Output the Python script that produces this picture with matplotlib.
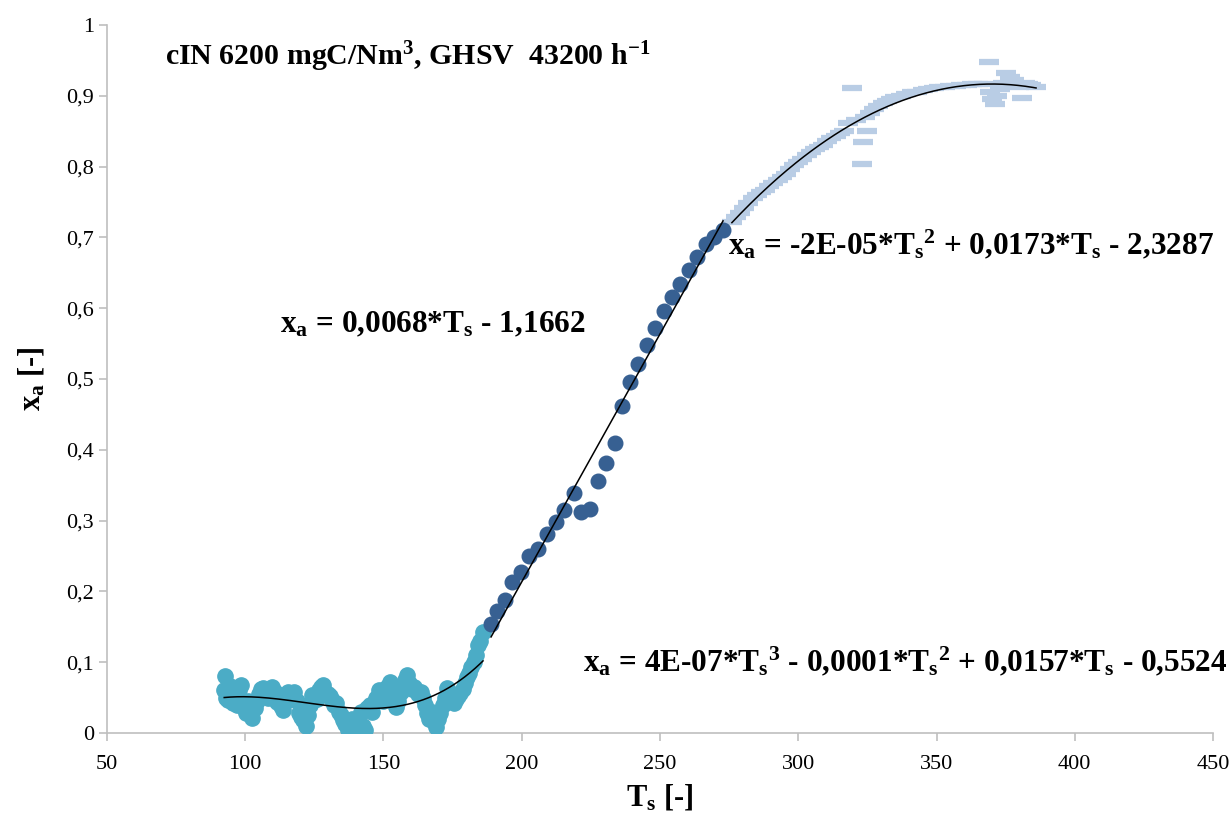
import numpy as np
import matplotlib.pyplot as plt
from matplotlib.ticker import FuncFormatter, MultipleLocator

plt.rcParams['font.family'] = ['Liberation Serif', 'DejaVu Serif']
plt.rcParams['mathtext.fontset'] = 'custom'
plt.rcParams['mathtext.rm'] = 'Liberation Serif:bold'
plt.rcParams['mathtext.it'] = 'Liberation Serif:bold'
plt.rcParams['mathtext.bf'] = 'Liberation Serif:bold'

# low-temperature region (cubic trend)
ts_low = [92.4, 92.6, 93.0, 93.8, 94.6, 95.4, 96.2, 97.0, 97.8, 98.6,
          99.4, 100.2, 101.0, 101.8, 102.6, 103.4, 104.2, 105.0, 105.8, 106.6,
          107.4, 108.2, 109.0, 109.8, 110.6, 111.4, 112.2, 113.0, 113.8, 114.6,
          115.4, 116.2, 117.0, 117.8, 118.6, 119.4, 120.2, 121.0, 121.8, 122.6,
          123.4, 124.2, 125.0, 125.8, 126.6, 127.4, 128.2, 129.0, 129.8, 130.6,
          131.4, 132.2, 133.0, 133.8, 134.6, 135.4, 136.2, 137.0, 137.8, 138.6,
          139.4, 140.2, 141.0, 141.8, 142.6, 143.4, 144.2, 145.0, 145.8, 146.6,
          147.4, 148.2, 149.0, 149.8, 150.6, 151.4, 152.2, 153.0, 153.8, 154.6,
          155.4, 156.2, 157.0, 157.8, 158.6, 159.4, 160.2, 161.0, 161.8, 162.6,
          163.4, 164.2, 165.0, 165.8, 166.6, 167.4, 168.2, 169.0, 169.8, 170.6,
          171.4, 172.2, 173.0, 173.8, 174.6, 175.4, 176.2, 177.0, 177.8, 178.6,
          179.4, 180.2, 181.0, 181.8, 182.6, 183.4, 184.2, 185.0, 186.0]
xa_low = [0.060, 0.080, 0.050, 0.047, 0.066, 0.042, 0.055, 0.040, 0.060, 0.068,
          0.035, 0.028, 0.045, 0.030, 0.021, 0.035, 0.045, 0.055, 0.062, 0.064,
          0.058, 0.050, 0.060, 0.065, 0.058, 0.044, 0.050, 0.038, 0.032, 0.045,
          0.058, 0.055, 0.050, 0.058, 0.045, 0.028, 0.022, 0.018, 0.010, 0.025,
          0.040, 0.054, 0.050, 0.048, 0.060, 0.065, 0.068, 0.058, 0.055, 0.052,
          0.047, 0.040, 0.042, 0.030, 0.025, 0.018, 0.012, 0.004, 0.010, 0.020,
          0.008, 0.004, 0.015, 0.030, 0.010, 0.004, 0.035, 0.040, 0.030, 0.042,
          0.050, 0.061, 0.055, 0.045, 0.060, 0.065, 0.072, 0.060, 0.050, 0.037,
          0.045, 0.058, 0.066, 0.075, 0.082, 0.070, 0.062, 0.065, 0.060, 0.055,
          0.058, 0.050, 0.040, 0.028, 0.020, 0.030, 0.015, 0.009, 0.020, 0.028,
          0.040, 0.050, 0.064, 0.055, 0.048, 0.042, 0.048, 0.052, 0.057, 0.062,
          0.070, 0.079, 0.085, 0.093, 0.100, 0.110, 0.124, 0.130, 0.143]

# light-off region (linear trend)
ts_mid = [188.9, 191.0, 194.0, 196.5, 199.7, 202.6, 205.9, 209.0, 212.4, 215.3,
          218.9, 221.4, 224.7, 227.6, 230.5, 233.7, 236.3, 239.1, 242.0, 245.3,
          248.2, 251.4, 254.3, 257.2, 260.5, 263.4, 266.6, 269.5, 272.8]
xa_mid = [0.154, 0.172, 0.188, 0.213, 0.227, 0.250, 0.260, 0.281, 0.298, 0.315,
          0.339, 0.312, 0.316, 0.356, 0.381, 0.410, 0.462, 0.496, 0.521, 0.548,
          0.572, 0.596, 0.616, 0.634, 0.654, 0.672, 0.691, 0.700, 0.710]

# high-temperature region (quadratic trend)
ts_high = [276.0, 277.5, 279.0, 280.5, 282.0, 283.5, 285.0, 286.5, 288.0, 289.5,
           291.0, 292.5, 294.0, 295.5, 297.0, 298.5, 300.0, 301.5, 303.0, 304.5,
           306.0, 307.5, 309.0, 310.5, 312.0, 313.5, 315.0, 316.5, 318.0, 319.4,
           321.0, 323.1, 323.5, 324.9, 324.0, 326.0, 327.5, 329.0, 330.5, 332.0,
           333.5, 335.0, 337.0, 339.0, 341.0, 343.0, 345.0, 347.0, 349.0, 351.0,
           353.0, 355.0, 357.0, 359.0, 361.0, 363.0, 365.0, 367.0, 369.0, 369.5,
           370.0, 371.0, 372.0, 373.0, 374.0, 375.0, 376.5, 378.0, 379.0, 380.0,
           381.0, 382.0, 383.0, 384.0, 386.0]
xa_high = [0.722, 0.729, 0.735, 0.742, 0.748, 0.756, 0.760, 0.764, 0.767, 0.772,
           0.777, 0.781, 0.786, 0.790, 0.796, 0.802, 0.806, 0.811, 0.816, 0.821,
           0.825, 0.828, 0.831, 0.836, 0.840, 0.843, 0.847, 0.850, 0.862, 0.911,
           0.866, 0.804, 0.835, 0.850, 0.870, 0.876, 0.882, 0.886, 0.890, 0.893,
           0.896, 0.898, 0.900, 0.903, 0.905, 0.906, 0.908, 0.909, 0.911, 0.912,
           0.913, 0.914, 0.914, 0.915, 0.915, 0.916, 0.916, 0.916, 0.948, 0.905,
           0.895, 0.888, 0.900, 0.910, 0.918, 0.932, 0.926, 0.922, 0.915, 0.912,
           0.897, 0.918, 0.917, 0.915, 0.913]

fig = plt.figure(figsize=(12.31, 8.23), dpi=100)
ax = fig.add_axes([0.0869, 0.1094, 0.8985, 0.8602])

ax.plot(ts_high, xa_high, linestyle='none', marker='_', markersize=15,
        markeredgewidth=4.5, color='#B9CDE5', zorder=2)
ax.plot(ts_low, xa_low, linestyle='none', marker='o', markersize=11,
        color='#4BACC6', zorder=3)
ax.plot(ts_mid, xa_mid, linestyle='none', marker='o', markersize=10.5,
        color='#376092', zorder=4)

# trend lines fitted to each region
for ts, xa, deg in [(ts_low, xa_low, 3), (ts_mid, xa_mid, 1), (ts_high, xa_high, 2)]:
    coef = np.polyfit(ts, xa, deg)
    tt = np.linspace(min(ts), max(ts), 200)
    ax.plot(tt, np.polyval(coef, tt), color='black', lw=1.1, zorder=5)

ax.set_xlim(50, 450)
ax.set_ylim(0, 1)
ax.xaxis.set_major_locator(MultipleLocator(50))
ax.yaxis.set_major_locator(MultipleLocator(0.1))
ax.yaxis.set_major_formatter(FuncFormatter(
    lambda v, p: '0' if abs(v) < 1e-9 else ('1' if abs(v - 1) < 1e-9 else f'{v:.1f}'.replace('.', ','))))

for side in ['top', 'right']:
    ax.spines[side].set_visible(False)
for side in ['left', 'bottom']:
    ax.spines[side].set_color('#BFBFBF')
    ax.spines[side].set_linewidth(1.2)
ax.tick_params(axis='both', colors='#BFBFBF', labelcolor='black', labelsize=16,
               length=6, width=1.2, direction='out')
ax.tick_params(axis='x', pad=10)

ax.set_xlabel(r'$\mathregular{T_s}$ [-]', fontsize=22, fontweight='bold', labelpad=6)
ax.set_ylabel(r'$\mathregular{x_a}$ [-]', fontsize=22, fontweight='bold', labelpad=14)


def px(x, y):
    return x / 1231, 1 - y / 823


txt = dict(fontsize=22.5, fontweight='bold', va='center', ha='left')
fig.text(*px(165, 57), r'cIN 6200 mgC/Nm$^3$, GHSV  43200 h$^{-1}$', fontsize=21.5,
         fontweight='bold', va='center', ha='left')
fig.text(*px(280, 325), r'$\mathregular{x_a}$ = 0,0068*$\mathregular{T_s}$ - 1,1662', **txt)
fig.text(*px(728, 245), r'$\mathregular{x_a}$ = -2E-05*$\mathregular{T_s{}^2}$ + 0,0173*$\mathregular{T_s}$ - 2,3287', **txt)
fig.text(*px(583, 662), r'$\mathregular{x_a}$ = 4E-07*$\mathregular{T_s{}^3}$ - 0,0001*$\mathregular{T_s{}^2}$ + 0,0157*$\mathregular{T_s}$ - 0,5524', **txt)

fig.savefig('out.png', dpi=100)
